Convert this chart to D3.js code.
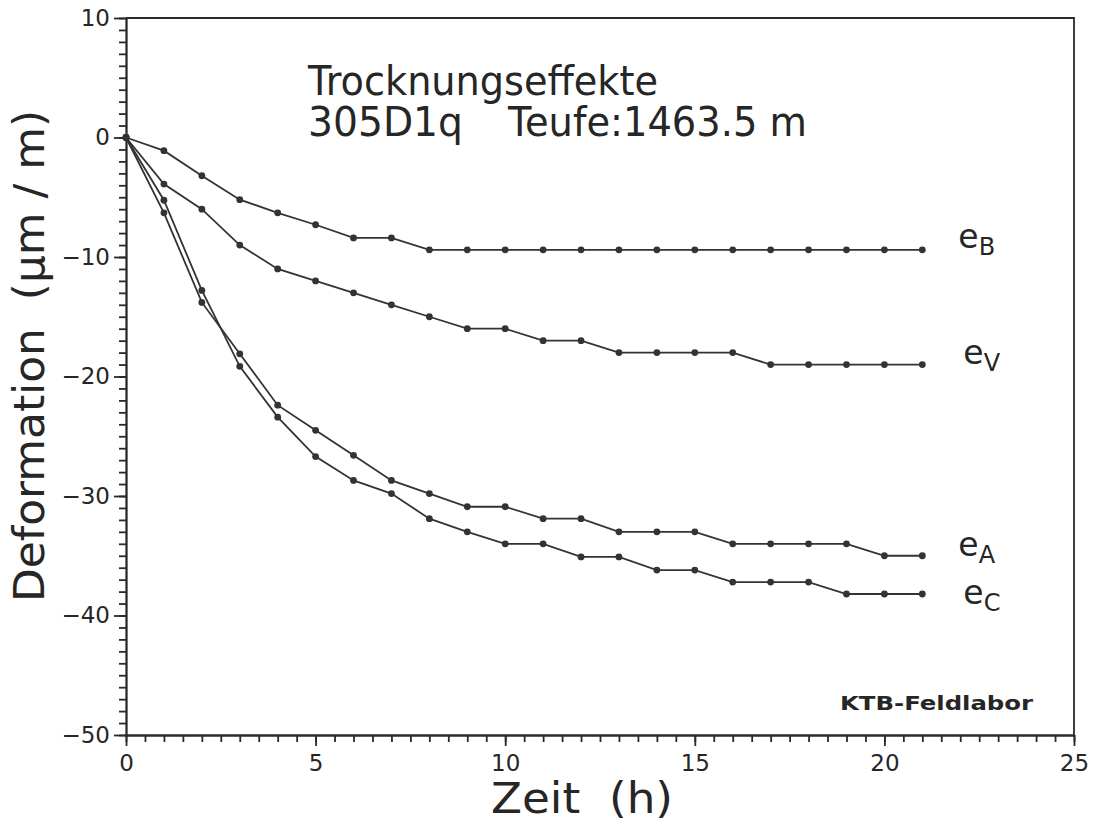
<!DOCTYPE html>
<html>
<head>
<meta charset="utf-8">
<script src="https://cdn.jsdelivr.net/npm/d3@7"></script>
<style>
  body { margin: 0; background: #fff; }
  text { font-family: "DejaVu Sans", sans-serif; fill: #262626; }
</style>
</head>
<body>
<svg id="chart" width="1096" height="821"></svg>
<script>
// Zeit (h)
var hours = [0, 1, 2, 3, 4, 5, 6, 7, 8, 9, 10, 11, 12, 13, 14, 15, 16, 17, 18, 19, 20, 21];

// Deformation (µm/m) pro Komponente
var eB = [0, -1.1, -3.2, -5.2, -6.3, -7.3, -8.4, -8.4, -9.4, -9.4, -9.4, -9.4, -9.4, -9.4, -9.4, -9.4, -9.4, -9.4, -9.4, -9.4, -9.4, -9.4];
var eV = [0, -3.9, -6, -9, -11, -12, -13, -14, -15, -16, -16, -17, -17, -18, -18, -18, -18, -19, -19, -19, -19, -19];
var eA = [0, -6.3, -13.8, -18.1, -22.4, -24.5, -26.6, -28.7, -29.8, -30.9, -30.9, -31.9, -31.9, -33, -33, -33, -34, -34, -34, -34, -35, -35];
var eC = [0, -5.25, -12.8, -19.15, -23.4, -26.7, -28.7, -29.8, -31.9, -33, -34, -34, -35.1, -35.1, -36.2, -36.2, -37.2, -37.2, -37.2, -38.2, -38.2, -38.2];

var seriesNames = ["B", "V", "A", "C"];
var seriesValues = [eB, eV, eA, eC];

// Achsen
var xTicks = [0, 5, 10, 15, 20, 25];
var yTicks = [10, 0, -10, -20, -30, -40, -50];

var svg = d3.select("#chart");
var mLeft = 126, mRight = 1074, mTop = 18, mBottom = 735;
var ink = "#2a2a2a";

var x = d3.scaleLinear().domain([0, 25]).range([mLeft, mRight]);
var y = d3.scaleLinear().domain([-50, 10]).range([mBottom, mTop]);

// Rahmen oben und rechts
svg.append("path")
    .attr("d", "M" + mLeft + "," + mTop + "H" + mRight + "V" + mBottom)
    .attr("fill", "none")
    .attr("stroke", ink)
    .attr("stroke-width", 1.8);

// Kleine Striche
var yMinor = svg.append("g")
    .attr("transform", "translate(" + mLeft + ",0)")
    .call(d3.axisLeft(y).ticks(60).tickSize(7).tickSizeOuter(0).tickFormat(""));
var xMinor = svg.append("g")
    .attr("transform", "translate(0," + mBottom + ")")
    .call(d3.axisBottom(x).ticks(50).tickSize(7).tickSizeOuter(0).tickFormat(""));

// Hauptstriche mit Beschriftung
var yMajor = svg.append("g")
    .attr("transform", "translate(" + mLeft + ",0)")
    .call(d3.axisLeft(y).tickValues(yTicks).tickSize(12).tickPadding(4).tickSizeOuter(0));
var xMajor = svg.append("g")
    .attr("transform", "translate(0," + mBottom + ")")
    .call(d3.axisBottom(x).tickValues(xTicks).tickSize(11).tickPadding(9).tickSizeOuter(0));

[yMinor, xMinor, yMajor, xMajor].forEach(function(g) {
    g.selectAll("path, line").attr("stroke", ink).attr("stroke-width", 1.8);
    g.selectAll("text")
        .style("font-family", "'DejaVu Sans', sans-serif")
        .style("font-size", "23px")
        .attr("fill", "#262626");
});

// Kurven
var line = d3.line()
    .x(function(d, i) { return x(hours[i]); })
    .y(function(d) { return y(d); });

// Feinjustierung der Kurvenbeschriftung
var labelNudge = { B: [36, -2], V: [41, -1], A: [36, 0], C: [41, 10] };

seriesValues.forEach(function(vals, k) {
    svg.append("path")
        .datum(vals)
        .attr("d", line)
        .attr("fill", "none")
        .attr("stroke", "#333")
        .attr("stroke-width", 1.8);

    svg.append("g").selectAll("circle")
        .data(vals)
        .enter().append("circle")
        .attr("cx", function(d, i) { return x(hours[i]); })
        .attr("cy", function(d) { return y(d); })
        .attr("r", 3.4)
        .attr("fill", "#333");

    var name = seriesNames[k];
    var last = vals[vals.length - 1];
    var lbl = svg.append("text")
        .attr("x", x(hours[hours.length - 1]) + labelNudge[name][0])
        .attr("y", y(last) + labelNudge[name][1])
        .style("font-size", "33px");
    lbl.append("tspan").text("e");
    lbl.append("tspan")
        .attr("dy", 7)
        .style("font-size", "24px")
        .text(name);
});

// Titel
svg.append("text")
    .attr("x", 308).attr("y", 95)
    .attr("textLength", 350).attr("lengthAdjust", "spacingAndGlyphs")
    .style("font-size", "41px")
    .text("Trocknungseffekte");
svg.append("text")
    .attr("x", 308).attr("y", 136)
    .attr("textLength", 155).attr("lengthAdjust", "spacingAndGlyphs")
    .style("font-size", "41px")
    .text("305D1q");
svg.append("text")
    .attr("x", 508).attr("y", 136)
    .attr("textLength", 299).attr("lengthAdjust", "spacingAndGlyphs")
    .style("font-size", "41px")
    .text("Teufe:1463.5 m");

svg.append("text")
    .attr("x", 840).attr("y", 710)
    .attr("textLength", 193).attr("lengthAdjust", "spacingAndGlyphs")
    .style("font-size", "20px")
    .style("font-weight", "bold")
    .text("KTB-Feldlabor");

// Achsentitel
svg.append("text")
    .attr("x", 491).attr("y", 813)
    .attr("textLength", 182).attr("lengthAdjust", "spacingAndGlyphs")
    .style("font-size", "42px")
    .style("white-space", "pre")
    .text("Zeit  (h)");

svg.append("text")
    .attr("transform", "translate(44,356) rotate(-90)")
    .attr("text-anchor", "middle")
    .attr("textLength", 492).attr("lengthAdjust", "spacingAndGlyphs")
    .style("font-size", "42px")
    .style("white-space", "pre")
    .text("Deformation  (\u03bcm / m)");
</script>
</body>
</html>
